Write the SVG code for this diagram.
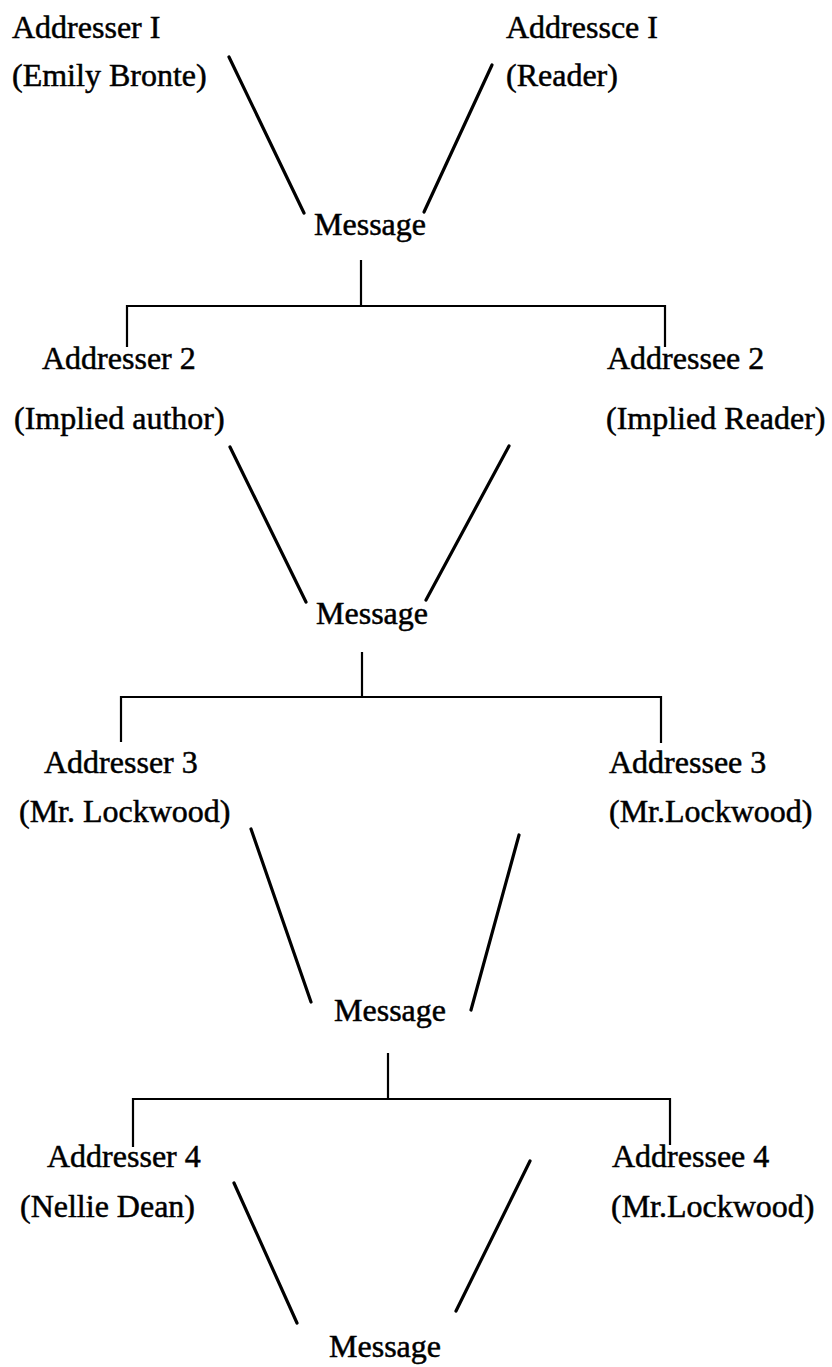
<svg xmlns="http://www.w3.org/2000/svg" width="832" height="1367" viewBox="0 0 832 1367">
  <style>
    .t { font-family: "Liberation Serif", "Times New Roman", serif; font-size: 32px; fill: #000; stroke: #000; stroke-width: 0.5; }
    .c { text-anchor: middle; }
    .slant { stroke: #000; stroke-width: 3.2; stroke-linecap: round; fill: none; }
    .tree { stroke: #000; stroke-width: 2.2; fill: none; }
  </style>
  <rect width="832" height="1367" fill="#fff"/>

  <!-- level 1 -->
  <g id="addresser1"><text class="t" x="12" y="38">Addresser I</text><text class="t" x="12" y="86">(Emily Bronte)</text></g>
  <g id="addressee1"><text class="t" x="506" y="38">Addressce I</text><text class="t" x="506" y="86">(Reader)</text></g>
  <g id="message1"><text class="t c" x="370" y="235">Message</text></g>

  <!-- level 2 -->
  <g id="addresser2"><text class="t" x="42" y="369">Addresser 2</text><text class="t" x="14" y="429">(Implied author)</text></g>
  <g id="addressee2"><text class="t" x="607" y="369">Addressee 2</text><text class="t" x="606" y="429">(Implied Reader)</text></g>
  <g id="message2"><text class="t c" x="372" y="624">Message</text></g>

  <!-- level 3 -->
  <g id="addresser3"><text class="t" x="44" y="773">Addresser 3</text><text class="t" x="19" y="822">(Mr. Lockwood)</text></g>
  <g id="addressee3"><text class="t" x="609" y="773">Addressee 3</text><text class="t" x="609" y="822">(Mr.Lockwood)</text></g>
  <g id="message3"><text class="t c" x="390" y="1021">Message</text></g>

  <!-- level 4 -->
  <g id="addresser4"><text class="t" x="47" y="1167">Addresser 4</text><text class="t" x="20" y="1217">(Nellie Dean)</text></g>
  <g id="addressee4"><text class="t" x="612" y="1167">Addressee 4</text><text class="t" x="611" y="1217">(Mr.Lockwood)</text></g>
  <g id="message4"><text class="t c" x="385" y="1357">Message</text></g>

  <g id="connectors">
    <!-- converging strokes into each message -->
    <line class="slant" x1="229" y1="57" x2="304" y2="213"/>
    <line class="slant" x1="492" y1="65" x2="424" y2="212"/>
    <line class="slant" x1="230" y1="447" x2="306" y2="602"/>
    <line class="slant" x1="509" y1="446" x2="426" y2="600"/>
    <line class="slant" x1="251" y1="829" x2="311" y2="1002"/>
    <line class="slant" x1="519" y1="835" x2="471" y2="1010"/>
    <line class="slant" x1="234" y1="1183" x2="297" y2="1323"/>
    <line class="slant" x1="530" y1="1161" x2="456" y2="1311"/>

    <!-- branching brackets under each message -->
    <path class="tree" d="M361 260 V306 M127 347 V306 H665 V347"/>
    <path class="tree" d="M362 652 V697 M121 742 V697 H661 V743"/>
    <path class="tree" d="M388 1053 V1099 M133 1147 V1099 H670 V1145"/>
  </g>
</svg>
